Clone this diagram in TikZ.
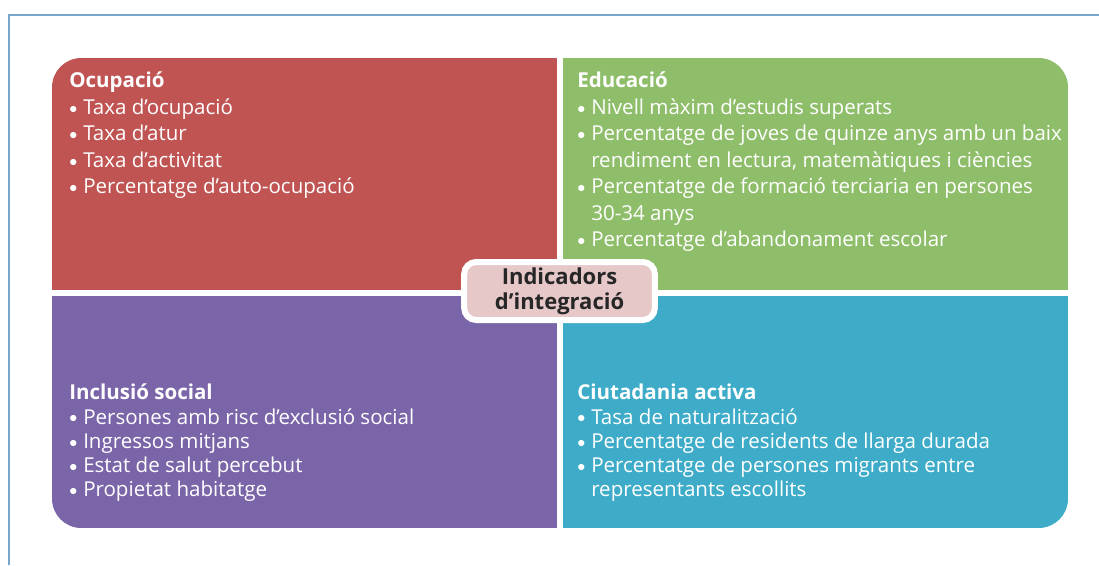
\documentclass[tikz,border=0pt]{standalone}
\usepackage{fontspec}
\setmainfont{Open Sans}
\usepackage{xcolor}
\usetikzlibrary{positioning}
\definecolor{ocred}{RGB}{192, 84, 83}
\definecolor{edgreen}{RGB}{143, 190, 106}
\definecolor{inpurple}{RGB}{123, 101, 169}
\definecolor{ciblue}{RGB}{62, 172, 200}
\definecolor{midpink}{RGB}{230, 200, 201}
\definecolor{framecol}{RGB}{122, 166, 206}
\definecolor{darktext}{RGB}{38, 38, 38}
\newcommand{\bul}{\makebox[10.5pt][l]{\raisebox{0.8pt}{\fontsize{12.5}{12}\selectfont$\bullet$}}}
\newcommand{\hang}{\hspace*{10.5pt}}

\begin{document}
\begin{tikzpicture}[x=0.75pt,y=-0.75pt]
        \useasboundingbox (0,0) rectangle (1099,565);
        \draw[framecol,line width=1.1pt](9,565)--(9,15)--(1099,15);
        % four quarters, outer corners rounded
        \begin{scope}
          \clip[rounded corners=22pt](52,58) rectangle (1068,528);
          \fill[ocred](52,58) rectangle (557,290);
          \fill[edgreen](563,58) rectangle (1068,290);
          \fill[inpurple](52,296) rectangle (557,528);
          \fill[ciblue](563,296) rectangle (1068,528);
        \end{scope}
        \tikzset{quartertext/.style={anchor=north west,inner sep=0pt,align=left,text=white}}
        \node[quartertext,font=\fontsize{15.4}{19.9}\selectfont] (ocupacio) at (69,68.9)
          {\strut\textbf{Ocupació}\\
           \bul Taxa d’ocupació\\
           \bul Taxa d’atur\\
           \bul Taxa d’activitat\\
           \bul Percentatge d’auto-ocupació};
        \node[quartertext,font=\fontsize{15.4}{19.9}\selectfont] (educacio) at (577,68.9)
          {\strut\textbf{Educació}\\
           \bul Nivell màxim d’estudis superats\\
           \bul Percentatge de joves de quinze anys amb un baix\\
           \hang rendiment en lectura, matemàtiques i ciències\\
           \bul Percentatge de formació terciaria en persones\\
           \hang 30-34 anys\\
           \bul Percentatge d’abandonament escolar};
        \node[quartertext,font=\fontsize{15.4}{18.2}\selectfont] (inclusio) at (69,382.5)
          {\strut\textbf{Inclusió social}\\
           \bul Persones amb risc d’exclusió social\\
           \bul Ingressos mitjans\\
           \bul Estat de salut percebut\\
           \bul Propietat habitatge};
        \node[quartertext,font=\fontsize{15.4}{18.2}\selectfont] (ciutadania) at (577,382.5)
          {\strut\textbf{Ciutadania activa}\\
           \bul Tasa de naturalització\\
           \bul Percentatge de residents de llarga durada\\
           \bul Percentatge de persones migrants entre\\
           \hang representants escollits};
        % centre label
        \node[fill=midpink,draw=white,line width=4.5pt,rounded corners=9pt,
          minimum width=143pt,minimum height=43.5pt,inner sep=0pt,align=center,
          text=darktext,font=\bfseries\fontsize{16.5}{18.75}\selectfont] (indicadors) at (559.5,291)
          {Indicadors\\d’integració};
      \end{tikzpicture}
\end{document}
